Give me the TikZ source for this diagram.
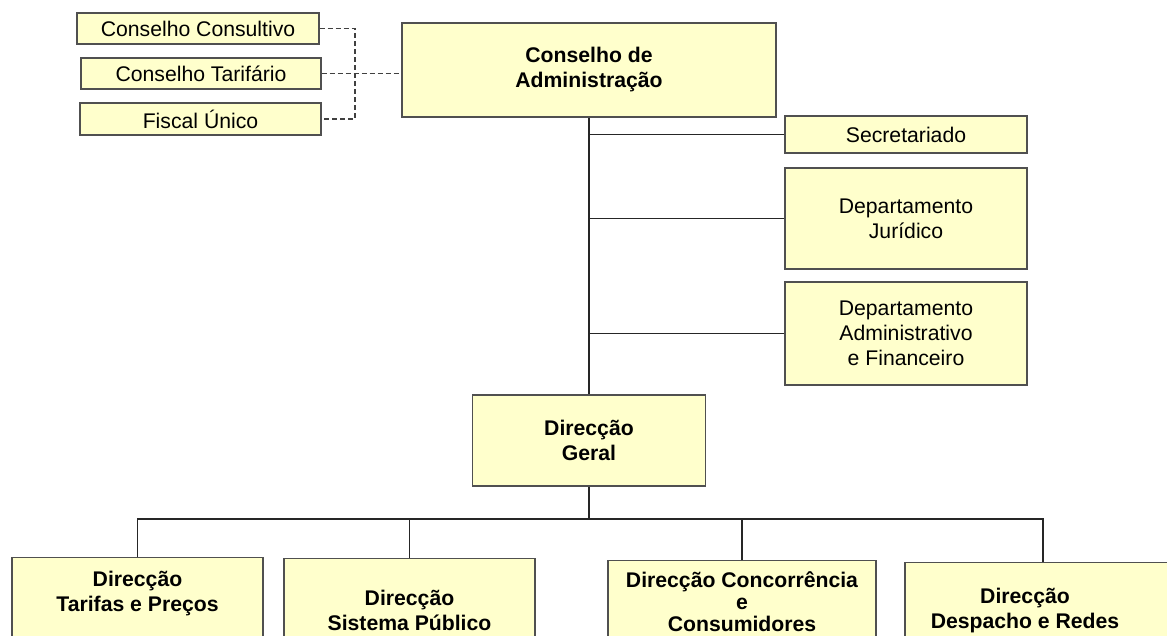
\documentclass[tikz,border=0pt]{standalone}
\usepackage{fontspec}
\setmainfont{Liberation Sans}
\definecolor{boxfill}{HTML}{FFFFCC}
\definecolor{boxline}{HTML}{505050}

\begin{document}
\begin{tikzpicture}[x=0.5pt,y=-0.5pt]
	\useasboundingbox (0,0) rectangle (1167,636);
	\clip (0,0) rectangle (1167,636);

	\begin{scope}[every node/.style={draw=boxline,line width=0.7pt,fill=boxfill,
	              align=center,inner sep=2pt,font=\fontsize{10.6pt}{12.5pt}\selectfont}]
	    \node[minimum width=121pt,minimum height=15.5pt] (consultivo) at (198,28.5) {Conselho Consultivo};
	    \node[minimum width=120pt,minimum height=15.5pt] (tarifario) at (201,73.5) {Conselho Tarifário};
	    \node[minimum width=120.5pt,minimum height=16pt] (fiscal) at (200.5,119) {Fiscal Único};
	    \node[minimum width=187pt,minimum height=47pt,font=\fontsize{10.6pt}{12.5pt}\selectfont\bfseries] (admin) at (589,70) {Conselho de\\Administração};
	    \node[minimum width=121pt,minimum height=18.5pt] (secret) at (906,134.5) {Secretariado};
	    \node[minimum width=121pt,minimum height=50.5pt] (juridico) at (906,218.5) {Departamento\\Jurídico};
	    \node[minimum width=121pt,minimum height=51.5pt] (admfin) at (906,333.5) {Departamento\\Administrativo\\e Financeiro};
	    \node[minimum width=116.5pt,minimum height=45.5pt,font=\fontsize{10.6pt}{12.5pt}\selectfont\bfseries] (geral) at (589,440.5) {Direcção\\Geral};
	\end{scope}

	\begin{scope}[every node/.style={draw=boxline,line width=0.7pt,fill=boxfill,
	              align=center,anchor=north,inner xsep=2pt,text depth=60pt,
	              font=\fontsize{10.6pt}{12.5pt}\selectfont\bfseries}]
	    \node[minimum width=125.5pt,inner ysep=6.75pt] (tarifas) at (137.5,557) {Direcção\\Tarifas e Preços};
	    \node[minimum width=125.5pt,inner ysep=15.75pt] (publico) at (409.5,558) {Direcção\\Sistema Público};
	    \node[minimum width=134pt,inner ysep=5.5pt,font=\fontsize{10.6pt}{11pt}\selectfont\bfseries] (concorrencia) at (742,560) {Direcção Concorrência\\e\\Consumidores};
	    \node[minimum width=138pt,inner ysep=12.75pt] (despacho) at (1043,562) {Direcção\hspace*{18pt}\\Despacho e Redes\hspace*{18pt}};
	\end{scope}

	\begin{scope}[every path/.style={draw=black!85,line width=0.7pt}]
	    % dashed links on the left
	    \coordinate (dashjoin) at (355,73.5);
	    \draw[dash pattern=on 2.5pt off 1.5pt,draw=black!75] (consultivo.east) -| (dashjoin) |- (fiscal.east);
	    \draw[dash pattern=on 2.5pt off 1.5pt,draw=black!75] (tarifario.east) -- (tarifario.east -| admin.west);
	    % spine and side boxes
	    \draw (admin.south) -- (geral.north);
	    \foreach \n in {secret,juridico,admfin}
	        \draw (\n.west) -- (\n.west -| admin.south);
	    % directions
	    \coordinate (bus) at (589,519);
	    \draw (geral.south) -- (bus);
	    \draw (tarifas.north) |- (bus) -| (despacho.north);
	    \foreach \n in {publico,concorrencia}
	        \draw (\n.north) -- (\n.north |- bus);
	\end{scope}
\end{tikzpicture}
\end{document}
